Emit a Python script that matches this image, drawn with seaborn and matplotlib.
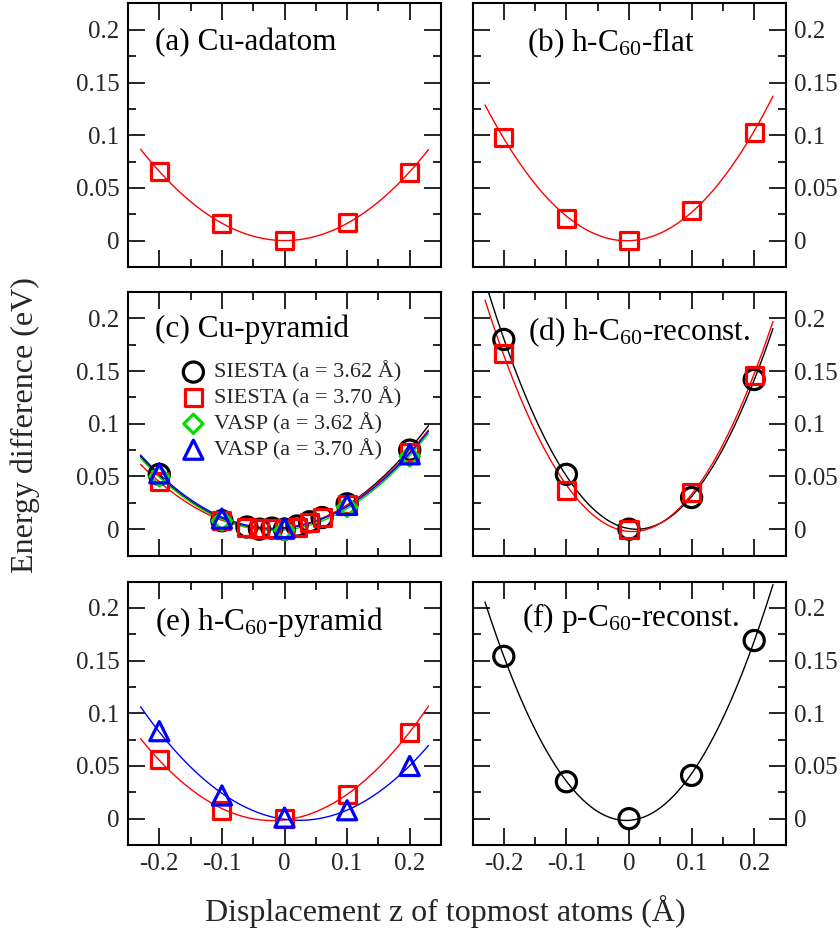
import numpy as np
import pandas as pd
import matplotlib
matplotlib.use("Agg")
import matplotlib.pyplot as plt
import seaborn as sns
from matplotlib.ticker import MultipleLocator, FuncFormatter

sns.set_theme(style="white")
plt.rcParams['font.family'] = ['Liberation Serif', 'DejaVu Serif']
plt.rcParams['mathtext.fontset'] = 'custom'
plt.rcParams['mathtext.rm'] = 'Liberation Serif'
plt.rcParams['mathtext.it'] = 'Liberation Serif:italic'
plt.rcParams['axes.unicode_minus'] = False

# ---------------- data ----------------
x5 = [-0.2, -0.1, 0.0, 0.1, 0.2]

a_red = [0.066, 0.016, 0.0, 0.017, 0.065]
b_red = [0.098, 0.021, 0.0, 0.029, 0.103]

c_x_siesta = [-0.2, -0.1, -0.06, -0.04, -0.02, 0.0, 0.02, 0.04, 0.06, 0.1, 0.2]
c_black = [0.052, 0.008, 0.002, 0.000, 0.001, 0.000, 0.003, 0.007, 0.011, 0.024, 0.075]
c_red = [0.045, 0.008, 0.002, 0.001, 0.001, 0.000, 0.002, 0.006, 0.011, 0.023, 0.073]
c_green = [0.050, 0.008, -0.001, 0.021, 0.069]
c_blue = [0.053, 0.010, 0.001, 0.023, 0.071]

d_black = [0.180, 0.052, 0.000, 0.030, 0.142]
d_red = [0.167, 0.037, 0.000, 0.035, 0.146]

e_red = [0.056, 0.008, 0.000, 0.023, 0.082]
e_blue = [0.083, 0.022, 0.001, 0.008, 0.050]

f_black = [0.154, 0.035, 0.000, 0.041, 0.169]

x_ticks = [-0.2, -0.1, 0.0, 0.1, 0.2]
y_ticks = [0.0, 0.05, 0.1, 0.15, 0.2]

legend_labels = ["SIESTA (a = 3.62 Å)", "SIESTA (a = 3.70 Å)",
                 "VASP (a = 3.62 Å)", "VASP (a = 3.70 Å)"]

panel_titles = ["(a) Cu-adatom", "(b) h-C$_{60}$-flat", "(c) Cu-pyramid",
                "(d) h-C$_{60}$-reconst.", "(e) h-C$_{60}$-pyramid",
                "(f) p-C$_{60}$-reconst."]

RED = "#ff0000"
BLUE = "#0000ff"
GREEN = "#00dd00"
BLACK = "#000000"

MK = {"o": 210, "s": 150, "D": 95, "^": 190}

fig = plt.figure(figsize=(8.4, 9.34), dpi=100)

W = 313 / 840
H = 263.5 / 934
lefts = [128 / 840, 472.5 / 840]
bottoms = [1 - 267 / 934, 1 - 555.5 / 934, 1 - 845 / 934]

axes = []
for r in range(3):
    for c in range(2):
        ax = fig.add_axes([lefts[c], bottoms[r], W, H])
        axes.append(ax)

xfit = np.linspace(-0.23, 0.23, 200)


def curve(ax, xs, ys, color, deg=2):
    p = np.polyfit(xs, ys, deg)
    yy = np.polyval(p, xfit)
    sns.lineplot(x=xfit, y=yy, color=color, lw=1.0, ax=ax, sort=False,
                 zorder=2)


def pts(ax, xs, ys, color, marker, label=None):
    sns.scatterplot(x=xs, y=ys, marker=marker, s=MK[marker], facecolor="none",
                    edgecolor=color, linewidth=2.3, ax=ax, zorder=3,
                    label=label)


fmt = FuncFormatter(lambda v, p: ("%g" % round(v, 3)))

for i, ax in enumerate(axes):
    ax.set_xlim(-0.25, 0.25)
    ax.set_ylim(-0.025, 0.225)
    ax.set_xticks(x_ticks)
    ax.set_yticks(y_ticks)
    ax.xaxis.set_minor_locator(MultipleLocator(0.05))
    ax.yaxis.set_minor_locator(MultipleLocator(0.025))
    ax.xaxis.set_major_formatter(fmt)
    ax.yaxis.set_major_formatter(fmt)
    ax.tick_params(which='both', direction='in', top=True, bottom=True,
                   left=True, right=True, color='black', width=1.2)
    ax.tick_params(which='major', length=12, labelsize=18, pad=6)
    ax.tick_params(which='minor', length=6)
    right = (i % 2 == 1)
    ax.tick_params(labelleft=not right, labelright=right)
    if i < 4:
        ax.tick_params(labelbottom=False)
    for s in ax.spines.values():
        s.set_color('black')
        s.set_linewidth(1.5)
    ax.set_facecolor('white')

# (a)
ax = axes[0]
curve(ax, x5, a_red, RED)
pts(ax, x5, a_red, RED, "s")
# (b)
ax = axes[1]
curve(ax, x5, b_red, RED)
pts(ax, x5, b_red, RED, "s")
# (c)
ax = axes[2]
curve(ax, c_x_siesta, c_black, BLACK)
curve(ax, c_x_siesta, c_red, RED)
curve(ax, x5, c_green, GREEN)
curve(ax, x5, c_blue, BLUE)
pts(ax, c_x_siesta, c_black, BLACK, "o", legend_labels[0])
pts(ax, c_x_siesta, c_red, RED, "s", legend_labels[1])
pts(ax, x5, c_green, GREEN, "D", legend_labels[2])
pts(ax, x5, c_blue, BLUE, "^", legend_labels[3])
leg = ax.legend(loc='upper left', bbox_to_anchor=(0.145, 0.77), frameon=False,
                fontsize=16, handletextpad=0.45, labelspacing=0.2,
                borderaxespad=0, handlelength=1.0)
# (d)
ax = axes[3]
curve(ax, x5, d_black, BLACK)
curve(ax, x5, d_red, RED)
pts(ax, x5, d_black, BLACK, "o")
pts(ax, x5, d_red, RED, "s")
# (e)
ax = axes[4]
curve(ax, x5, e_red, RED)
curve(ax, x5, e_blue, BLUE)
pts(ax, x5, e_red, RED, "s")
pts(ax, x5, e_blue, BLUE, "^")
# (f)
ax = axes[5]
curve(ax, x5, f_black, BLACK)
pts(ax, x5, f_black, BLACK, "o")

title_pos = [(0.085, 0.824), (0.174, 0.818), (0.085, 0.83), (0.177, 0.818),
             (0.085, 0.815), (0.158, 0.83)]
for ax, t, (tx, ty) in zip(axes, panel_titles, title_pos):
    ax.text(tx, ty, t, transform=ax.transAxes, fontsize=22.5, ha='left',
            va='baseline', color='black')

fig.text(0.53, 0.024, "Displacement z of topmost atoms (Å)", ha='center',
         va='center', fontsize=23)
fig.text(0.03, 0.545, "Energy difference (eV)", ha='center', va='center',
         rotation=90, fontsize=23)

fig.savefig("out.png", dpi=100, facecolor='white')
